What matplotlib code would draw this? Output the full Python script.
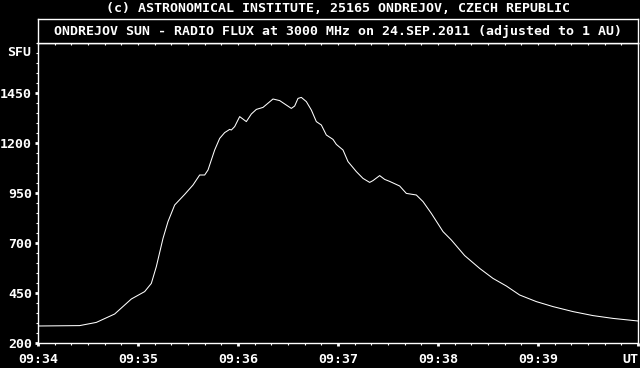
import matplotlib
matplotlib.use("Agg")
import matplotlib.pyplot as plt
from matplotlib.ticker import MultipleLocator, FixedLocator

# ---- text ----
title_top = "(c) ASTRONOMICAL INSTITUTE, 25165 ONDREJOV, CZECH REPUBLIC"
title_box = "ONDREJOV SUN - RADIO FLUX at 3000 MHz on 24.SEP.2011 (adjusted to 1 AU)"
y_unit = "SFU"
x_unit = "UT"
time_tick_labels = ["09:34", "09:35", "09:36", "09:37", "09:38", "09:39"]
flux_tick_values = [200, 450, 700, 950, 1200, 1450]

# ---- data: seconds after 09:34:00 UT, flux in SFU ----
seconds = [0, 25, 35, 46, 56, 64, 68, 71, 75, 78, 82, 88, 93, 97, 100, 102,
           106, 109, 112, 115, 116, 118, 121, 125, 128, 131, 135, 141, 145,
           152, 154, 156, 158, 161, 164, 167, 170, 173, 177, 179, 183, 186,
           191, 195, 199, 201, 205, 208, 211, 217, 221, 227, 231, 236, 243,
           248, 256, 265, 273, 281, 289, 299, 309, 321, 333, 345, 360]
flux = [285, 287, 303, 345, 420, 457, 498, 582, 723, 807, 890, 943, 990,
        1040, 1040, 1065, 1165, 1223, 1252, 1268, 1265, 1282, 1332, 1307,
        1345, 1368, 1378, 1420, 1412, 1373, 1385, 1423, 1428, 1407, 1365,
        1307, 1290, 1240, 1218, 1193, 1165, 1107, 1057, 1023, 1003, 1012,
        1037, 1018, 1008, 985, 948, 940, 907, 848, 757, 715, 637, 573, 523,
        485, 440, 407, 382, 357, 337, 323, 310]

W, H = 640, 368
FONT = dict(family="DejaVu Sans Mono", weight="bold", size=9.5)


def rect(x0, y0, x1, y1):
    return [x0 / W, 1 - y1 / H, (x1 - x0) / W, (y1 - y0) / H]


fig = plt.figure(figsize=(W / 100, H / 100), dpi=100, facecolor="black")

# main plot
ax = fig.add_axes(rect(38, 43, 638, 343))
ax.set_facecolor("black")
ax.plot(seconds, flux, color="white", lw=0.75, antialiased=True)
ax.set_xlim(0, 360)
ax.set_ylim(200, 1700)
for s in ax.spines.values():
    s.set_color("white")
    s.set_linewidth(1.0)

ax.xaxis.set_major_locator(FixedLocator(list(range(0, 361, 60))))
ax.set_xticklabels(time_tick_labels + [x_unit])
ax.xaxis.set_minor_locator(MultipleLocator(10))
ax.yaxis.set_major_locator(FixedLocator(flux_tick_values))
ax.set_yticklabels([str(v) for v in flux_tick_values])
ax.yaxis.set_minor_locator(MultipleLocator(50))

ax.tick_params(axis="both", which="major", colors="white", direction="out",
               length=2.4, width=2)
ax.tick_params(axis="both", which="minor", colors="white", direction="out",
               length=1.6, width=0.8)
ax.tick_params(axis="x", which="major", pad=5)
ax.tick_params(axis="y", which="major", pad=2)
for lab in ax.get_xticklabels() + ax.get_yticklabels():
    lab.set_fontfamily(FONT["family"])
    lab.set_fontweight(FONT["weight"])
    lab.set_fontsize(FONT["size"])
    lab.set_color("white")
ax.get_xticklabels()[-1].set_horizontalalignment("right")

ax.text(-0.012, 1650, y_unit, transform=ax.get_yaxis_transform(),
        ha="right", va="center", color="white", **FONT)

# small ticks below the separator line
top = ax.secondary_xaxis("top")
top.xaxis.set_major_locator(MultipleLocator(10))
top.tick_params(axis="x", which="major", direction="in", length=1.5,
                width=0.8, colors="white", labeltop=False)
top.spines["top"].set_color("white")

# title box
tb = fig.add_axes(rect(38, 19, 638, 43))
tb.set_facecolor("black")
tb.set_xticks([])
tb.set_yticks([])
for s in tb.spines.values():
    s.set_color("white")
    s.set_linewidth(1.0)
tb.text(0.5, 0.5, title_box, ha="center", va="center", color="white",
        transform=tb.transAxes, **FONT)

fig.text(338 / W, 1 - 8 / H, title_top, ha="center", va="center",
         color="white", **FONT)

fig.savefig("out.png", dpi=100, facecolor="black")
